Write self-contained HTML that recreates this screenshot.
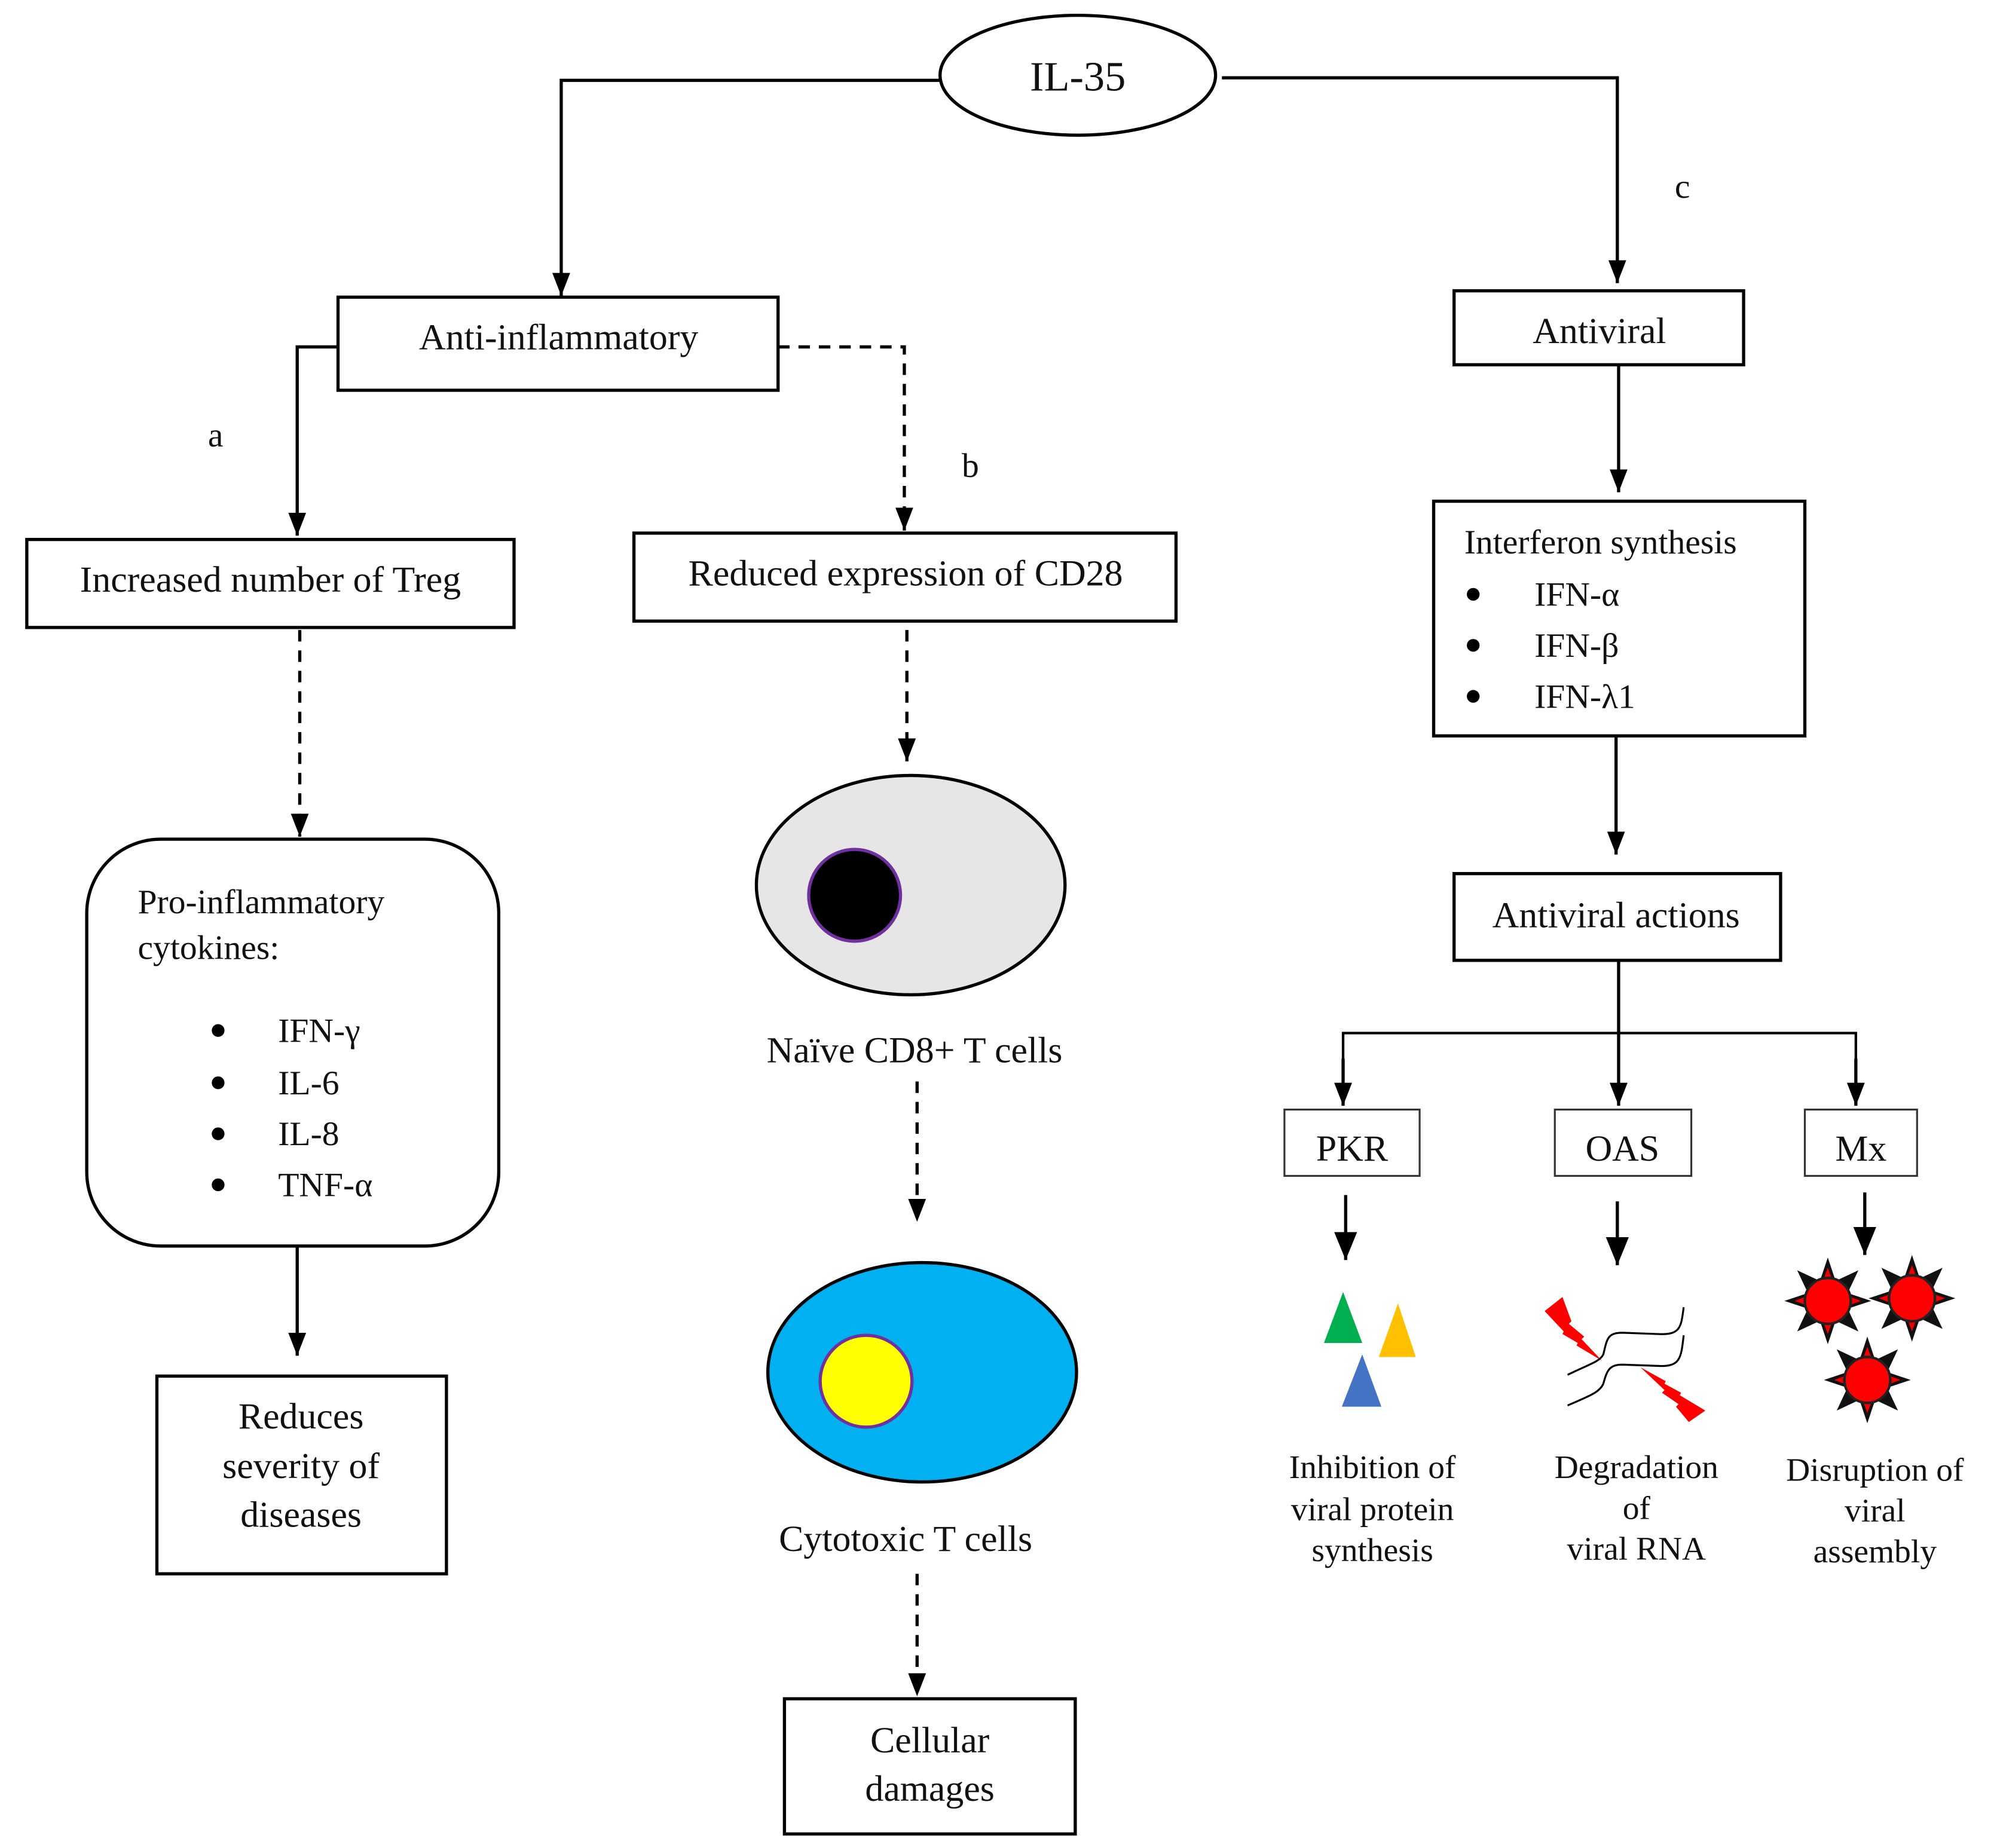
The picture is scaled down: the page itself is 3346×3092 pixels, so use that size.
<!DOCTYPE html>
<html><head><meta charset="utf-8"><style>
html,body{margin:0;padding:0;background:#fff}
svg{display:block}
text{font-family:"Liberation Serif",serif;fill:#111}
</style></head><body>
<svg width="3346" height="3092" viewBox="0 0 1568 1449" xmlns="http://www.w3.org/2000/svg">
<defs>
<marker id="ar" viewBox="0 0 10 10" refX="10" refY="5" markerWidth="18" markerHeight="14" markerUnits="userSpaceOnUse" orient="auto" preserveAspectRatio="none"><path d="M0,0L10,5L0,10z" fill="#000"/></marker>
<marker id="ar2" viewBox="0 0 10 10" refX="10" refY="5" markerWidth="22" markerHeight="18" markerUnits="userSpaceOnUse" orient="auto" preserveAspectRatio="none"><path d="M0,0L10,5L0,10z" fill="#000"/></marker>
<g id="star">
<polygon points="0,-34 6,-16 -6,-16" fill="#111"/><polygon points="0,34 6,16 -6,16" fill="#111"/>
<polygon points="-34,0 -16,6 -16,-6" fill="#111"/><polygon points="34,0 16,6 16,-6" fill="#111"/>
<polygon points="24,-24 7,-16 16,-7" fill="#111"/><polygon points="-24,-24 -7,-16 -16,-7" fill="#111"/>
<polygon points="24,24 7,16 16,7" fill="#111"/><polygon points="-24,24 -7,16 -16,7" fill="#111"/>
<polygon points="0,-26 3,-18 -3,-18" fill="#e00"/><polygon points="0,26 3,18 -3,18" fill="#e00"/>
<polygon points="-26,0 -18,3 -18,-3" fill="#e00"/><polygon points="26,0 18,3 18,-3" fill="#e00"/>
<circle r="18" fill="#f00" stroke="#222" stroke-width="2"/>
</g>
</defs>
<g fill="none" stroke="#000" stroke-width="2.5">
<ellipse cx="845" cy="59" rx="108" ry="47"/>
<polyline points="737,63 440,63 440,232" marker-end="url(#ar)"/>
<polyline points="958,61 1268,61 1268,222" marker-end="url(#ar)"/>
<rect x="265" y="233" width="345" height="73"/>
<polyline points="265,272 233,272 233,420" marker-end="url(#ar)"/>
<polyline points="610,272 709,272 709,416" stroke-dasharray="9,7" marker-end="url(#ar)"/>
<rect x="21" y="423" width="382" height="69"/>
<rect x="497" y="418" width="425" height="69"/>
<line x1="235" y1="494" x2="235" y2="656" stroke-dasharray="9,7" marker-end="url(#ar)"/>
<rect x="68" y="658" width="323" height="319" rx="58"/>
<line x1="233" y1="977" x2="233" y2="1063" marker-end="url(#ar)"/>
<rect x="123" y="1079" width="227" height="155"/>
<line x1="711" y1="494" x2="711" y2="597" stroke-dasharray="9,7" marker-end="url(#ar)"/>
<line x1="719" y1="848" x2="719" y2="958" stroke-dasharray="9,7" marker-end="url(#ar)"/>
<line x1="719" y1="1234" x2="719" y2="1330" stroke-dasharray="9,7" marker-end="url(#ar)"/>
<rect x="615" y="1332" width="228" height="106"/>
<rect x="1140" y="228" width="227" height="58"/>
<line x1="1269" y1="286" x2="1269" y2="386" marker-end="url(#ar)"/>
<rect x="1124" y="393" width="291" height="184"/>
<line x1="1267" y1="577" x2="1267" y2="670" marker-end="url(#ar)"/>
<rect x="1140" y="685" width="256" height="68"/>
<line x1="1269" y1="753" x2="1269" y2="867" marker-end="url(#ar)"/>
<polyline points="1053,850 1053,810 1455,810 1455,850" stroke-width="2" />
</g>
<g fill="none" stroke="#000" stroke-width="2.5">
<line x1="1053" y1="830" x2="1053" y2="867" marker-end="url(#ar)"/>
<line x1="1455" y1="830" x2="1455" y2="867" marker-end="url(#ar)"/>
<line x1="1055" y1="937" x2="1055" y2="988" marker-end="url(#ar2)"/>
<line x1="1268" y1="942" x2="1268" y2="992" marker-end="url(#ar2)"/>
<line x1="1462" y1="935" x2="1462" y2="984" marker-end="url(#ar2)"/>
</g>
<g fill="#fff" stroke="#333" stroke-width="1.5">
<rect x="1007" y="870" width="106" height="52"/>
<rect x="1219" y="870" width="107" height="52"/>
<rect x="1415" y="870" width="88" height="52"/>
</g>
<ellipse cx="714" cy="694" rx="121" ry="86" fill="#e6e6e6" stroke="#000" stroke-width="2.5"/>
<circle cx="670" cy="702" r="36" fill="#000" stroke="#7030a0" stroke-width="2.5"/>
<ellipse cx="723" cy="1076" rx="121" ry="86" fill="#00b0f0" stroke="#000" stroke-width="2.5"/>
<circle cx="679" cy="1083" r="36" fill="#ff0" stroke="#7030a0" stroke-width="2.5"/>
<polygon points="1053,1013 1068,1053 1038,1053" fill="#00b050"/>
<polygon points="1096,1022 1110,1064 1081,1064" fill="#ffc000"/>
<polygon points="1068,1062 1083,1103 1052,1103" fill="#4472c4"/>
<polygon points="1211,1028 1225,1017 1232,1036 1230,1038 1242,1048 1240,1050 1256,1067 1236,1055 1237,1053 1225,1046 1226,1044" fill="#f00"/>
<polygon points="1286,1072 1306,1083 1305,1085 1318,1092 1317,1094 1337,1106 1324,1115 1314,1103 1316,1101 1303,1092 1305,1090" fill="#f00"/>
<g fill="none" stroke="#000" stroke-width="1.5">
<path d="M1229,1078 C1245,1070 1254,1068 1257,1062 C1260,1050 1260,1045 1272,1045 L1300,1046 C1318,1047 1318,1040 1320,1025"/>
<path d="M1229,1102 C1245,1095 1254,1092 1257,1085 C1260,1074 1262,1070 1272,1070 L1300,1071 C1318,1072 1318,1064 1320,1047"/>
</g>
<use href="#star" x="1433" y="1020"/>
<use href="#star" x="1499" y="1018"/>
<use href="#star" x="1464" y="1082"/>
<g font-size="29" text-anchor="middle">
<text x="845" y="71" font-size="33">IL-35</text>
<text x="438" y="274">Anti-inflammatory</text>
<text x="212" y="464">Increased number of Treg</text>
<text x="710" y="459">Reduced expression of CD28</text>
<text x="236" y="1120">Reduces</text>
<text x="236" y="1159">severity of</text>
<text x="236" y="1197">diseases</text>
<text x="717" y="833">Naïve CD8+ T cells</text>
<text x="710" y="1216">Cytotoxic T cells</text>
<text x="729" y="1374">Cellular</text>
<text x="729" y="1412">damages</text>
<text x="1254" y="269">Antiviral</text>
<text x="1267" y="727">Antiviral actions</text>
<text x="1060" y="910">PKR</text>
<text x="1272" y="910">OAS</text>
<text x="1459" y="910">Mx</text>
</g>
<g font-size="27">
<text x="163" y="350">a</text>
<text x="754" y="374">b</text>
<text x="1313" y="155">c</text>
<text x="108" y="716">Pro-inflammatory</text>
<text x="108" y="752">cytokines:</text>
<text x="218" y="817">IFN-γ</text>
<text x="218" y="858">IL-6</text>
<text x="218" y="898">IL-8</text>
<text x="218" y="938">TNF-α</text>
<text x="1148" y="434">Interferon synthesis</text>
<text x="1203" y="475">IFN-α</text>
<text x="1203" y="515">IFN-β</text>
<text x="1203" y="555">IFN-λ1</text>
</g>
<g fill="#000">
<circle cx="171" cy="808" r="5"/><circle cx="171" cy="849" r="5"/><circle cx="171" cy="889" r="5"/><circle cx="171" cy="929" r="5"/>
<circle cx="1155" cy="466" r="5"/><circle cx="1155" cy="506" r="5"/><circle cx="1155" cy="546" r="5"/>
</g>
<g font-size="26" text-anchor="middle">
<text x="1076" y="1159">Inhibition of</text>
<text x="1076" y="1192">viral protein</text>
<text x="1076" y="1224">synthesis</text>
<text x="1283" y="1159">Degradation</text>
<text x="1283" y="1191">of</text>
<text x="1283" y="1223">viral RNA</text>
<text x="1470" y="1161">Disruption of</text>
<text x="1470" y="1193">viral</text>
<text x="1470" y="1225">assembly</text>
</g>
</svg>
</body></html>
